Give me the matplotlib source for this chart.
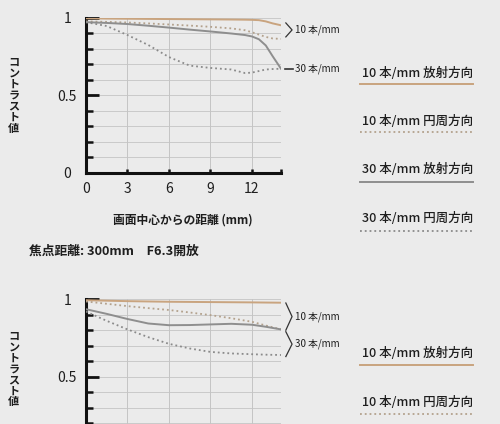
import matplotlib.pyplot as plt
import numpy as np
from matplotlib.lines import Line2D

plt.rcParams['font.family'] = ['Noto Sans CJK JP', 'DejaVu Sans']

# データ (上: 焦点距離 1 / 下: 焦点距離 300mm)
x_top = [0, 1.5, 3, 4.5, 6, 7.5, 9, 10.5, 11.5, 12, 12.5, 13, 13.5, 14.1]
top_10_rad = [0.995, 0.993, 0.992, 0.991, 0.99, 0.989, 0.988, 0.987, 0.986, 0.985, 0.983, 0.975, 0.962, 0.95]
top_10_sag = [0.975, 0.972, 0.968, 0.962, 0.955, 0.948, 0.94, 0.93, 0.918, 0.905, 0.89, 0.875, 0.865, 0.862]
top_30_rad = [0.97, 0.965, 0.958, 0.947, 0.935, 0.922, 0.91, 0.897, 0.887, 0.878, 0.86, 0.82, 0.75, 0.67]
top_30_sag = [0.97, 0.945, 0.887, 0.823, 0.745, 0.69, 0.675, 0.665, 0.642, 0.645, 0.655, 0.665, 0.668, 0.67]

x_bot = [0, 1.5, 3, 4.5, 6, 7.5, 9, 10.5, 12, 13, 14.1]
bot_10_rad = [0.993, 0.99, 0.987, 0.985, 0.983, 0.982, 0.981, 0.98, 0.979, 0.978, 0.977]
bot_10_sag = [0.985, 0.97, 0.955, 0.942, 0.93, 0.914, 0.897, 0.877, 0.854, 0.83, 0.805]
bot_30_rad = [0.935, 0.905, 0.872, 0.843, 0.832, 0.833, 0.837, 0.841, 0.835, 0.822, 0.805]
bot_30_sag = [0.92, 0.86, 0.805, 0.755, 0.712, 0.682, 0.66, 0.65, 0.645, 0.642, 0.64]

x_ticks = [0, 3, 6, 9, 12]
x_max = 14.1

legend_labels = ['10 本/mm 放射方向', '10 本/mm 円周方向', '30 本/mm 放射方向', '30 本/mm 円周方向']

bg = '#ebebeb'
tan = '#c9a47f'
tan_dot = '#b3a18c'
gray = '#8e8e8e'
gray_dot = '#8a8a8a'
txt = '#1e1e1e'

styles = [(tan, '-', 1.4), (tan_dot, ':', 1.3), (gray, '-', 1.4), (gray_dot, ':', 1.3)]

fig = plt.figure(figsize=(5, 4.24), dpi=100, facecolor=bg)


def setup(ax, show_xlabels=True, ylab_pos=0.5, ylabels=('0', '0.5', '1')):
    ax.set_facecolor(bg)
    ax.set_xlim(0, x_max)
    ax.set_ylim(0, 1.0)
    ax.set_xticks(x_ticks + [x_max])
    ax.set_xticklabels([str(t) for t in x_ticks] + [''] if show_xlabels else [])
    ax.set_yticks([0, 0.5, 1])
    ax.set_yticklabels(list(ylabels), ha='center')
    ax.set_yticks(np.arange(0.1, 1.0, 0.1), minor=True)
    for y in np.arange(0.1, 1.01, 0.1):
        ax.axhline(y, color='#c9c9c9', lw=0.7, zorder=0)
    for xv in x_ticks[1:] + [x_max]:
        ax.axvline(xv, color='#c4c4c4', lw=0.7, zorder=0)
    for s in ['top', 'right']:
        ax.spines[s].set_visible(False)
    for s in ['left', 'bottom']:
        ax.spines[s].set_linewidth(2.2)
        ax.spines[s].set_color('#111111')
    ax.tick_params(axis='y', which='major', direction='in', length=9.5, width=2, color='#111111',
                   labelsize=10, pad=13.5, labelcolor=txt)
    ax.tick_params(axis='y', which='minor', direction='in', length=5, width=1.8, color='#111111')
    ax.tick_params(axis='x', which='major', direction='in', length=3, width=1.8, color='#111111',
                   labelsize=10, pad=7, labelcolor=txt)
    ax.text(-0.37, ylab_pos, '\n'.join('コントラスト値'), transform=ax.transAxes, ha='center',
            va='center', fontsize=8, fontweight='bold', color=txt, linespacing=0.8)


def bracket(ax, y1, y2, label):
    ym = (y1 + y2) / 2
    ax.add_line(Line2D([x_max + 0.35, x_max + 0.8, x_max + 0.35], [y1, ym, y2], color='#333333',
                       lw=0.9, clip_on=False))
    ax.text(x_max + 1.0, ym, label, ha='left', va='center', fontsize=7, color=txt, clip_on=False)


# 上のグラフ
ax1 = fig.add_axes([0.172, 0.5927, 0.39, 0.366])
setup(ax1)
for ys, (c, ls, lw) in zip([top_10_rad, top_10_sag, top_30_rad, top_30_sag], styles):
    ax1.plot(x_top, ys, color=c, ls=ls, lw=lw, zorder=3)
bracket(ax1, 0.965, 0.875, '10 本/mm')
ax1.add_line(Line2D([x_max + 0.3, x_max + 0.9], [top_30_rad[-1], top_30_rad[-1]], color='#333333',
                    lw=1.2, clip_on=False))
ax1.text(x_max + 1.0, top_30_rad[-1], '30 本/mm', ha='left', va='center', fontsize=7, color=txt)
ax1.text(7.0, -0.305, '画面中心からの距離 (mm)', ha='center', va='center',
         fontsize=8.5, fontweight='bold', color=txt)

fig.text(0.058, 1 - 251 / 424, '焦点距離: 300mm　F6.3開放', ha='left', va='center',
         fontsize=9.2, fontweight='bold', color=txt)

# 下のグラフ
ax2 = fig.add_axes([0.172, -0.0715, 0.39, 0.366])
setup(ax2, show_xlabels=False, ylab_pos=0.55, ylabels=('', '0.5', '1'))
for ys, (c, ls, lw) in zip([bot_10_rad, bot_10_sag, bot_30_rad, bot_30_sag], styles):
    ax2.plot(x_bot, ys, color=c, ls=ls, lw=lw, zorder=3)
bracket(ax2, 0.975, 0.80, '10 本/mm')
bracket(ax2, 0.79, 0.63, '30 本/mm')

# 凡例 (右側)
leg_top = [(73, 83.5), (121, 132), (169, 182), (219, 231)]
leg_bot = [(353, 365), (402, 414)]
for (ty, ly), lab, (c, ls, lw) in zip(leg_top, legend_labels, styles):
    fig.text(362 / 500, 1 - ty / 424, lab, ha='left', va='center', fontsize=9, color=txt,
             fontweight='medium')
    fig.add_artist(Line2D([360 / 500, 473 / 500], [1 - ly / 424, 1 - ly / 424], color=c, ls=ls, lw=lw))
for (ty, ly), lab, (c, ls, lw) in zip(leg_bot, legend_labels[:2], styles[:2]):
    fig.text(362 / 500, 1 - ty / 424, lab, ha='left', va='center', fontsize=9, color=txt,
             fontweight='medium')
    fig.add_artist(Line2D([360 / 500, 473 / 500], [1 - ly / 424, 1 - ly / 424], color=c, ls=ls, lw=lw))

fig.savefig('out.png', dpi=100, facecolor=bg)
